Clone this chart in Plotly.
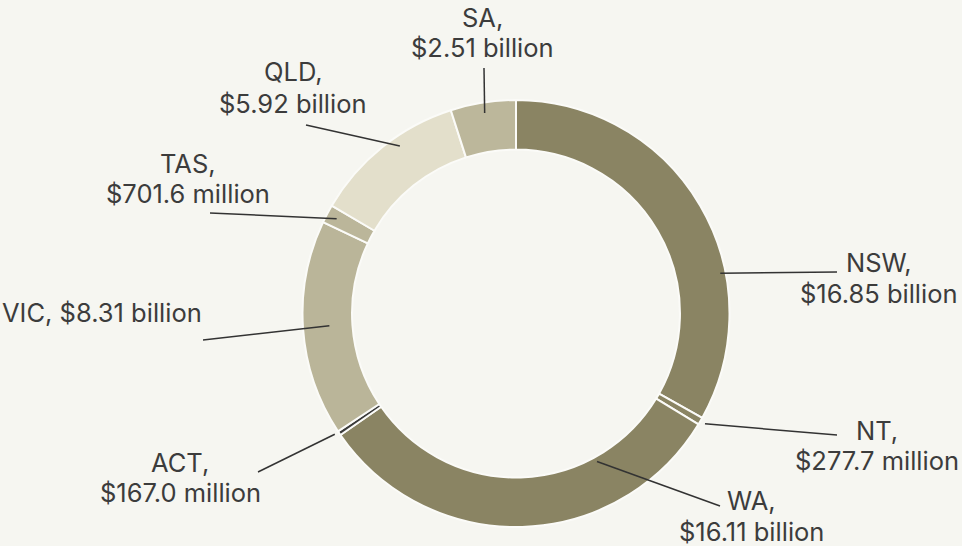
import math
import plotly.graph_objects as go

# ---- data ----
states = ["NSW", "NT", "WA", "ACT", "VIC", "TAS", "QLD", "SA"]
values_billion = [16.85, 0.2777, 16.11, 0.167, 8.31, 0.7016, 5.92, 2.51]
value_labels = ["$16.85 billion", "$277.7 million", "$16.11 billion", "$167.0 million",
                "$8.31 billion", "$701.6 million", "$5.92 billion", "$2.51 billion"]
colors = ["#8a8463", "#8a8463", "#8a8463", "#3a3a3a", "#bab599", "#bbb69a", "#e3dfcb", "#bcb79b"]

# ---- layout / style ----
W, H = 962, 546
BG = "#f6f6f1"
TXT = "#3c3c3c"
FONT = "Inter, Roboto, 'Noto Sans', sans-serif"
FS = 25.5
CX, CY, R = 516, 313.5, 213.5
HOLE = 0.768

# label layout: text x (px), line-centre ys (px), line end (px), anchor radius fraction, angle nudge (deg)
label_layout = {
    "NSW": dict(tx=879, ys=(262, 293), ex=837, ey=272, rf=0.975, nudge=19.2, one=False, xa="center"),
    "NT":  dict(tx=877, ys=(430, 460), ex=837, ey=435, rf=1.025, nudge=0.0, one=False, xa="center"),
    "WA":  dict(tx=751, ys=(500, 531), ex=720, ey=506, rf=0.79, nudge=-27.0, one=False, xa="center"),
    "ACT": dict(tx=180, ys=(462, 492), ex=258, ey=472, rf=1.02, nudge=0.4, one=False, xa="center"),
    "VIC": dict(tx=0, ys=(312,), ex=203, ey=340, rf=0.876, nudge=0.3, one=True, xa="left"),
    "TAS": dict(tx=188, ys=(163, 193), ex=210, ey=213, rf=0.95, nudge=0.0, one=False, xa="center"),
    "QLD": dict(tx=293, ys=(72, 103), ex=306, ey=125, rf=0.955, nudge=4.0, one=False, xa="center"),
    "SA":  dict(tx=483, ys=(17, 47), ex=484, ey=68, rf=0.95, nudge=0.0, one=False, xa="center"),
}

def px(x):
    return x / W

def py(y):
    return 1 - y / H

fig = go.Figure(go.Pie(
    labels=states,
    values=values_billion,
    hole=HOLE,
    sort=False,
    direction="clockwise",
    rotation=0,
    marker=dict(colors=colors, line=dict(color="#fbfbf8", width=2)),
    textinfo="none",
    hoverinfo="label+value",
    showlegend=False,
    domain=dict(x=[px(CX - R), px(CX + R)], y=[py(CY + R), py(CY - R)]),
))

total = sum(values_billion)
cum = 0.0
shapes = []
annotations = []
for s, v, lab in zip(states, values_billion, value_labels):
    mid = (cum + v / 2) / total * 360.0
    cum += v
    L = label_layout[s]
    ang = math.radians(mid + L["nudge"])
    ax = CX + L["rf"] * R * math.sin(ang)
    ay = CY - L["rf"] * R * math.cos(ang)
    shapes.append(dict(type="line", xref="paper", yref="paper",
                       x0=px(ax), y0=py(ay), x1=px(L["ex"]), y1=py(L["ey"]),
                       line=dict(color="#333333", width=1.5)))
    lines = [f"{s}, {lab}"] if L["one"] else [f"{s},", lab]
    for t, yy in zip(lines, L["ys"]):
        annotations.append(dict(xref="paper", yref="paper", x=px(L["tx"]), y=py(yy),
                                xanchor=L["xa"], yanchor="middle", text=t, showarrow=False,
                                align="center", font=dict(family=FONT, size=FS, color=TXT)))

fig.update_layout(
    width=W, height=H,
    margin=dict(l=0, r=0, t=0, b=0),
    paper_bgcolor=BG, plot_bgcolor=BG,
    shapes=shapes, annotations=annotations,
)

fig.write_html("out.html",
               config={"displayModeBar": False},
               post_script="document.body.style.margin='0';document.body.style.overflow='hidden';")
